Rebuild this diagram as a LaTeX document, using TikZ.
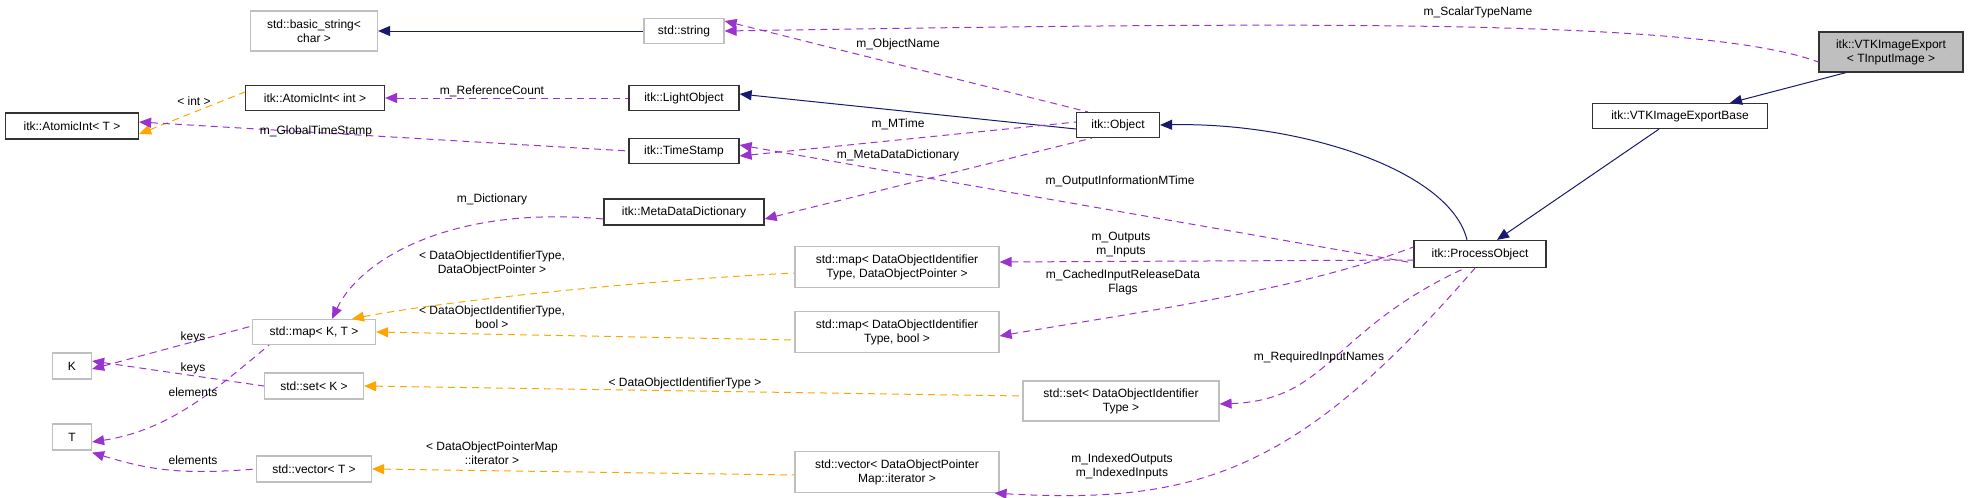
\documentclass[tikz,border=0pt]{standalone}
\usepackage{fontspec}
\setmainfont{Liberation Sans}
\usetikzlibrary{arrows.meta}
\definecolor{navy}{HTML}{191970}
\definecolor{purp}{HTML}{9A32CD}
\definecolor{orng}{HTML}{FFA500}
\definecolor{gbord}{HTML}{BFBFBF}
\begin{document}
\begin{tikzpicture}[x=1pt,y=-1pt,
  every node/.style={font=\fontsize{12}{14}\selectfont, align=center, inner sep=0pt},
  cls/.style={draw=black!80, line width=1.2pt, rectangle},
  stdc/.style={draw=gbord, line width=1.2pt, rectangle},
  lbl/.style={font=\fontsize{12}{14}\selectfont},
  inh/.style={draw=navy, line width=1pt, {Triangle[width=10pt,length=12pt,fill=navy]}-},
  use/.style={draw=purp, line width=1pt, dash pattern=on 7pt off 5pt, {Triangle[width=10pt,length=12pt,fill=purp]}-},
  tmpl/.style={draw=orng, line width=1pt, dash pattern=on 7pt off 5pt, {Triangle[width=10pt,length=12pt,fill=orng]}-}]
\useasboundingbox (0,0) rectangle (1968,498);
% nodes
\node[stdc, minimum width=127pt, minimum height=40pt] (bstr) at (314,31) {std::basic\_string<\\char >};
\node[stdc, minimum width=80pt, minimum height=25pt] (str) at (684,31) {std::string};
\node[cls, minimum width=144pt, minimum height=40pt, fill=gbord] (vtk) at (1891,52) {itk::VTKImageExport\\< TInputImage >};
\node[cls, minimum width=139pt, minimum height=25pt] (aint) at (315,98) {itk::AtomicInt< int >};
\node[cls, minimum width=110pt, minimum height=25pt] (light) at (684,98) {itk::LightObject};
\node[cls, minimum width=133pt, minimum height=26pt] (aT) at (72,126) {itk::AtomicInt< T >};
\node[cls, minimum width=110pt, minimum height=25pt] (ts) at (684,151) {itk::TimeStamp};
\node[cls, minimum width=83pt, minimum height=25pt] (obj) at (1118,125) {itk::Object};
\node[cls, minimum width=175pt, minimum height=25pt] (base) at (1680,116) {itk::VTKImageExportBase};
\node[cls, minimum width=160pt, minimum height=26pt] (mdd) at (684,212) {itk::MetaDataDictionary};
\node[cls, minimum width=132pt, minimum height=27pt] (po) at (1480,254) {itk::ProcessObject};
\node[stdc, minimum width=204pt, minimum height=41pt] (mapdop) at (897,267) {std::map< DataObjectIdentifier\\Type, DataObjectPointer >};
\node[stdc, minimum width=204pt, minimum height=41pt] (mapbool) at (897,332) {std::map< DataObjectIdentifier\\Type, bool >};
\node[stdc, minimum width=196pt, minimum height=40pt] (setdoi) at (1121,401) {std::set< DataObjectIdentifier\\Type >};
\node[stdc, minimum width=204pt, minimum height=41pt] (vecdop) at (897,472) {std::vector< DataObjectPointer\\Map::iterator >};
\node[stdc, minimum width=123pt, minimum height=25pt] (mapkt) at (314,332) {std::map< K, T >};
\node[stdc, minimum width=39pt, minimum height=26pt] (K) at (72,366) {K};
\node[stdc, minimum width=99pt, minimum height=26pt] (setk) at (314,386) {std::set< K >};
\node[stdc, minimum width=39pt, minimum height=26pt] (T) at (72,437) {T};
\node[stdc, minimum width=115pt, minimum height=26pt] (vect) at (314,469) {std::vector< T >};
% edges
\draw[inh] (bstr.east) -- (str.west);
\draw[use] (str.east) .. controls (1300,22) and (1700,18) .. ([yshift=-10pt]vtk.west);
\draw[use] ([yshift=10pt]str.east) -- ([xshift=-30pt]obj.north);
\draw[tmpl] ([yshift=-8pt]aT.east) -- ([yshift=6pt]aint.west);
\draw[use] (aint.east) -- (light.west);
\draw[use] ([yshift=4pt]aT.east) -- (ts.west);
\draw[inh] ([yshift=4pt]light.east) -- ([yshift=-4pt]obj.west);
\draw[use] ([yshift=-5pt]ts.east) -- ([yshift=3pt]obj.west);
\draw[use] ([yshift=-7pt]mdd.east) -- ([xshift=-26pt]obj.south);
\draw[use] ([yshift=6pt]ts.east) -- ([yshift=-9pt]po.west);
\draw[inh] (obj.east) .. controls (1300,122) and (1450,170) .. ([xshift=-13pt]po.north);
\draw[inh] ([xshift=50pt]base.north) -- ([xshift=-45pt]vtk.south);
\draw[inh] ([xshift=17pt]po.north) -- ([xshift=-21pt]base.south);
\draw[use] ([yshift=5pt]mapdop.east) -- ([yshift=-6pt]po.west);
\draw[use] ([yshift=-4pt]mapbool.east) .. controls (1150,310) and (1300,290) .. ([yshift=7pt]po.west);
\draw[use] ([yshift=-3pt]setdoi.east) .. controls (1330,400) and (1330,330) .. ([xshift=-15pt]po.south);
\draw[use] ([xshift=-5pt]vecdop.south east) .. controls (1200,505) and (1300,470) .. ([xshift=-5pt]po.south);
\draw[use] ([xshift=18pt]mapkt.north) .. controls (360,260) and (450,205) .. ([yshift=-7pt]mdd.west);
\draw[tmpl] ([xshift=38pt]mapkt.north) .. controls (450,300) and (650,280) .. ([yshift=-6pt]mapdop.west);
\draw[tmpl] (mapkt.east) -- ([yshift=-8pt]mapbool.west);
\draw[use] ([yshift=-3pt]K.east) -- ([yshift=6pt]mapkt.west);
\draw[use] ([yshift=5pt]K.east) -- (setk.west);
\draw[use] ([yshift=-5pt]T.east) .. controls (170,430) and (215,390) .. ([xshift=-45pt]mapkt.south);
\draw[tmpl] (setk.east) -- ([yshift=5pt]setdoi.west);
\draw[use] ([yshift=-2pt]T.south east) .. controls (150,470) and (180,475) .. (vect.west);
\draw[tmpl] (vect.east) -- ([yshift=-3pt]vecdop.west);
% labels
\node[lbl] at (1478,12) {m\_ScalarTypeName};
\node[lbl] at (898,44) {m\_ObjectName};
\node[lbl] at (492,91) {m\_ReferenceCount};
\node[lbl] at (194,101) {< int >};
\node[lbl] at (316,131) {m\_GlobalTimeStamp};
\node[lbl] at (898,124) {m\_MTime};
\node[lbl] at (898,155) {m\_MetaDataDictionary};
\node[lbl] at (1120,181) {m\_OutputInformationMTime};
\node[lbl] at (492,199) {m\_Dictionary};
\node[lbl] at (1121,245) {m\_Outputs\\m\_Inputs};
\node[lbl] at (1123,282) {m\_CachedInputReleaseData\\Flags};
\node[lbl] at (492,263) {< DataObjectIdentifierType,\\DataObjectPointer >};
\node[lbl] at (492,317) {< DataObjectIdentifierType,\\bool >};
\node[lbl] at (193,337) {keys};
\node[lbl] at (193,368) {keys};
\node[lbl] at (193,392) {elements};
\node[lbl] at (685,383) {< DataObjectIdentifierType >};
\node[lbl] at (1319,357) {m\_RequiredInputNames};
\node[lbl] at (492,453) {< DataObjectPointerMap\\::iterator >};
\node[lbl] at (193,460) {elements};
\node[lbl] at (1122,466) {m\_IndexedOutputs\\m\_IndexedInputs};
\end{tikzpicture}
\end{document}
